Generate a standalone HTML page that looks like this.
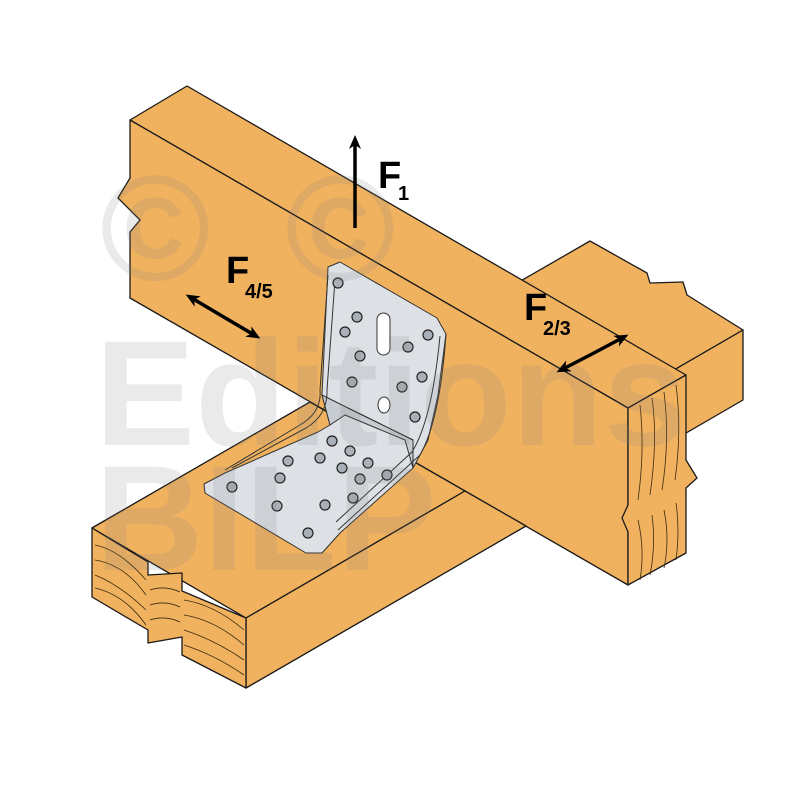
<!DOCTYPE html>
<html><head><style>html,body{margin:0;padding:0;background:#fff}svg{display:block}</style></head><body>
<svg width="800" height="800" viewBox="0 0 800 800" xmlns="http://www.w3.org/2000/svg" font-family="Liberation Sans, sans-serif">
<defs>
<marker id="ah" markerWidth="14" markerHeight="14" refX="9" refY="7" orient="auto" markerUnits="userSpaceOnUse"><path d="M0,1 L14,7 L0,13 L4,7 Z" fill="#000"/></marker>
</defs>
<g stroke="#1a1a1a" stroke-width="1.3" stroke-linejoin="round" fill="#f0b25f">
<polygon points="92,528 590,241 647,273 650,283 683,282 687,295 743,330 246,618"/>
<polygon points="246,618 743,330 743,400 246,688"/>
<polygon points="130,120 187,86 686,375 628,408"/>
<polygon points="130,120 628,408 628,585 130,298 130,232 140,220 118,198 130,178"/>
<polygon points="628,408 686,375 686,460 697,478 686,488 686,553 628,585 628,532 622,518 628,505"/>
<polygon points="92,528 310,402 465,491 246,618"/>
<polygon points="246,618 465,491 526,526 246,688"/>
<polygon points="92,528 148,562 148,575 182,573 182,591 246,618 246,688 182,655 182,637 148,643 148,630 92,597"/>
</g>
<g stroke="#3a2a10" stroke-width="0.8" fill="none">
<path d="M95,545 Q120,550 146,580"/><path d="M95,560 Q125,565 146,595"/><path d="M95,575 Q120,585 146,610"/><path d="M95,588 Q125,595 146,625"/>
<path d="M150,590 Q165,585 180,592"/><path d="M150,605 Q165,600 180,607"/><path d="M150,620 Q165,615 180,622"/>
<path d="M184,600 Q215,605 244,630"/><path d="M184,615 Q215,620 244,645"/><path d="M184,630 Q215,640 244,660"/><path d="M184,645 Q215,655 244,675"/>
<path d="M640,405 Q645,450 638,500"/><path d="M652,398 Q658,440 650,495"/><path d="M664,392 Q670,440 662,490"/><path d="M676,385 Q682,430 675,480"/>
<path d="M638,520 Q645,550 640,580"/><path d="M652,515 Q656,545 650,575"/><path d="M664,510 Q670,540 664,568"/><path d="M676,503 Q680,530 676,560"/>
</g>
<g stroke="#333" stroke-width="1" stroke-linejoin="round">
<polygon fill="#dde1e6" points="328,267 340,262 437,318 446,334 438,395 428,440 413,468 340,533 322,553 306,553 205,493 204,484 225,473 318,432 330,425 322,395"/>
<polygon fill="#c7ccd2" points="322,395 348,408 413,440 413,468 405,440 345,415 330,425"/>
<path d="M446,334 Q440,420 420,455 L338,530" fill="none"/>
<path d="M440,336 Q432,420 412,452 L336,522" fill="none"/>
<path d="M328,275 L320,390 Q322,412 300,425 L225,470" fill="none"/>
<path d="M335,280 L327,390 Q328,415 306,428 L232,468" fill="none"/>
<line x1="348" y1="408" x2="413" y2="440"/>
<rect x="377" y="313" width="13" height="42" rx="6.5" fill="#fff"/>
<ellipse cx="384" cy="405" rx="6" ry="8" fill="#fff"/>
</g>
<g fill="#aab0b8" stroke="#222" stroke-width="1.2">
<circle cx="338" cy="283" r="5"/><circle cx="357" cy="317" r="5"/><circle cx="345" cy="332" r="5"/><circle cx="408" cy="347" r="5"/><circle cx="428" cy="335" r="5"/><circle cx="422" cy="377" r="5"/><circle cx="402" cy="387" r="5"/><circle cx="415" cy="417" r="5"/><circle cx="352" cy="382" r="5"/><circle cx="360" cy="356" r="5"/>
<circle cx="232" cy="487" r="5"/><circle cx="280" cy="478" r="5"/><circle cx="288" cy="461" r="5"/><circle cx="320" cy="458" r="5"/><circle cx="332" cy="441" r="5"/><circle cx="350" cy="451" r="5"/><circle cx="368" cy="463" r="5"/><circle cx="342" cy="468" r="5"/><circle cx="360" cy="479" r="5"/><circle cx="387" cy="475" r="5"/><circle cx="353" cy="498" r="5"/><circle cx="325" cy="505" r="5"/><circle cx="277" cy="506" r="5"/><circle cx="308" cy="533" r="5"/>
</g>
<g fill="#808080" opacity="0.16" font-weight="bold">
<text x="100" y="280" font-size="150">©</text>
<text x="285" y="280" font-size="150">©</text>
<text x="95" y="445" font-size="150">Editions</text>
<text x="95" y="570" font-size="150">BILP</text>
</g>
<g stroke="#000" stroke-width="3.5" fill="none">
<line x1="355" y1="228" x2="355" y2="140" marker-end="url(#ah)"/>
<line x1="222" y1="316" x2="190" y2="297" marker-end="url(#ah)"/>
<line x1="222" y1="316" x2="256" y2="336" marker-end="url(#ah)"/>
<line x1="592" y1="354" x2="561" y2="370" marker-end="url(#ah)"/>
<line x1="592" y1="354" x2="624" y2="337" marker-end="url(#ah)"/>
</g>
<g fill="#000" font-weight="bold">
<text x="378" y="188" font-size="38">F</text><text x="398" y="200" font-size="20">1</text>
<text x="226" y="283" font-size="38">F</text><text x="245" y="298" font-size="20">4/5</text>
<text x="524" y="320" font-size="38">F</text><text x="543" y="335" font-size="20">2/3</text>
</g>
</svg>
</body></html>
